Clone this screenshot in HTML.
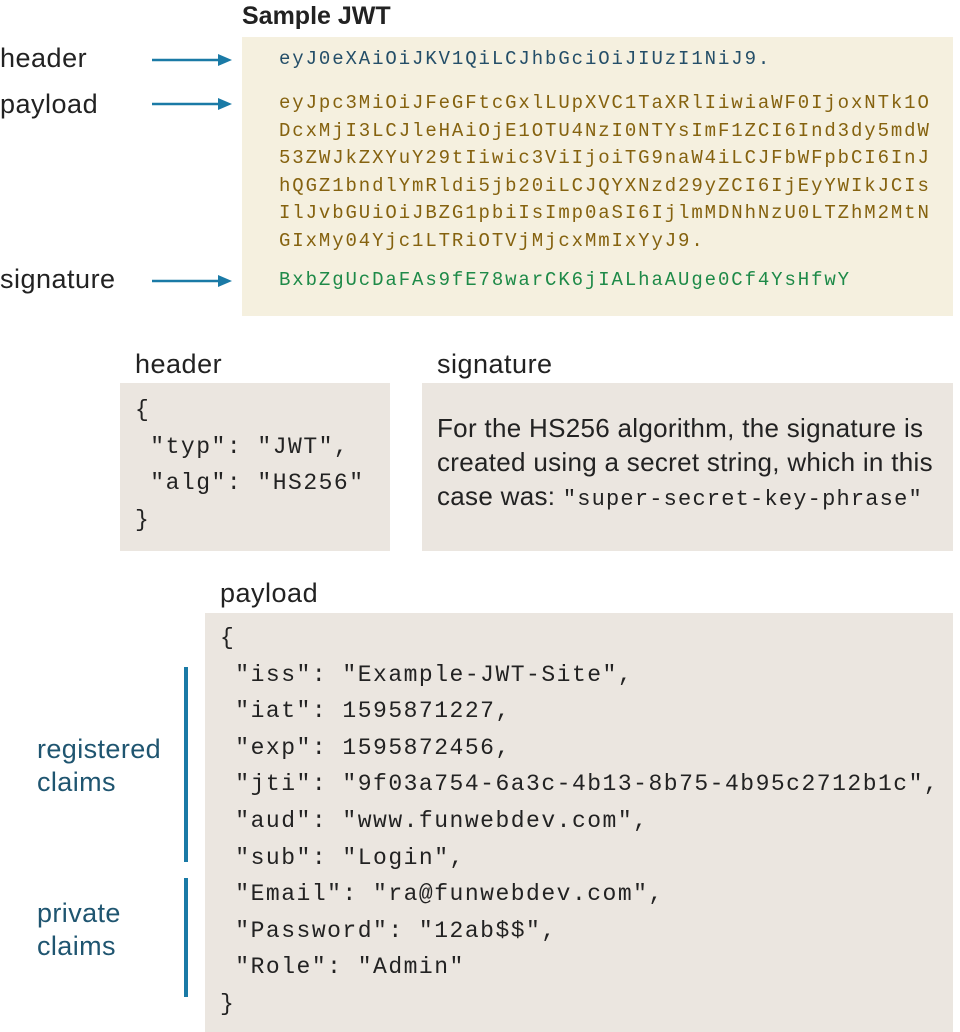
<!DOCTYPE html>
<html><head><meta charset="utf-8"><style>
body{margin:0;width:960px;height:1032px;background:#fff;position:relative;overflow:hidden;font-family:"Liberation Sans",sans-serif}
.a{position:absolute;white-space:pre}
.lab{font-size:27px;letter-spacing:0.5px;color:#222;line-height:30px}
.m{font-family:"Liberation Mono",monospace}
.top{font-size:19px;letter-spacing:1.9px;line-height:27.5px}
.pm{font-size:23px;letter-spacing:1.5px;line-height:36.6px;color:#222}
.box{position:absolute}
.cl{font-size:27px;letter-spacing:0.4px;color:#1f5570;line-height:33px}
</style></head><body>
<div class="a" style="left:242px;top:2px;font-size:25px;font-weight:bold;color:#222">Sample JWT</div>
<div class="box" style="left:242px;top:37px;width:711px;height:279px;background:#f5f0df"></div>
<div class="a lab" style="left:0;top:43px">header</div>
<div class="a lab" style="left:0;top:89px">payload</div>
<div class="a lab" style="left:0;top:264px">signature</div>
<svg class="a" style="left:0;top:0" width="240" height="300">
<g stroke="#1a7aa6" stroke-width="2.5" fill="#1a7aa6">
<line x1="152" y1="60" x2="220" y2="60"/><polygon points="232,60 218,54 218,66" stroke="none"/>
<line x1="152" y1="104" x2="220" y2="104"/><polygon points="232,104 218,98 218,110" stroke="none"/>
<line x1="152" y1="281" x2="220" y2="281"/><polygon points="232,281 218,275 218,287" stroke="none"/>
</g></svg>
<div class="a m top" style="left:279px;top:46px;color:#244e68">eyJ0eXAiOiJKV1QiLCJhbGciOiJIUzI1NiJ9.</div>
<div class="a m top" style="left:279px;top:90px;color:#85620f">eyJpc3MiOiJFeGFtcGxlLUpXVC1TaXRlIiwiaWF0IjoxNTk1O
DcxMjI3LCJleHAiOjE1OTU4NzI0NTYsImF1ZCI6Ind3dy5mdW
53ZWJkZXYuY29tIiwic3ViIjoiTG9naW4iLCJFbWFpbCI6InJ
hQGZ1bndlYmRldi5jb20iLCJQYXNzd29yZCI6IjEyYWIkJCIs
IlJvbGUiOiJBZG1pbiIsImp0aSI6IjlmMDNhNzU0LTZhM2MtN
GIxMy04Yjc1LTRiOTVjMjcxMmIxYyJ9.</div>
<div class="a m top" style="left:279px;top:267px;color:#1e8a48">BxbZgUcDaFAs9fE78warCK6jIALhaAUge0Cf4YsHfwY</div>

<div class="a lab" style="left:135px;top:349px">header</div>
<div class="a lab" style="left:437px;top:349px">signature</div>
<div class="box" style="left:120px;top:383px;width:270px;height:168px;background:#ebe6e0"></div>
<div class="box" style="left:422px;top:383px;width:531px;height:168px;background:#ebe6e0"></div>
<div class="a m pm" style="left:135px;top:392px">{
 "typ": "JWT",
 "alg": "HS256"
}</div>
<div class="a" style="left:437px;top:411px;font-size:26px;letter-spacing:0.3px;line-height:34px;color:#222">For the HS256 algorithm, the signature is
created using a secret string, which in this
case was: <span class="m" style="font-size:22px;letter-spacing:1.2px">"super-secret-key-phrase"</span></div>

<div class="a lab" style="left:220px;top:578px">payload</div>
<div class="box" style="left:205px;top:613px;width:748px;height:419px;background:#ebe6e0"></div>
<div class="a m pm" style="left:220px;top:620px">{
 "iss": "Example-JWT-Site",
 "iat": 1595871227,
 "exp": 1595872456,
 "jti": "9f03a754-6a3c-4b13-8b75-4b95c2712b1c",
 "aud": "www.funwebdev.com",
 "sub": "Login",
 "Email": "ra@funwebdev.com",
 "Password": "12ab$$",
 "Role": "Admin"
}</div>
<div class="box" style="left:184px;top:667px;width:4px;height:195px;background:#1a7aa6"></div>
<div class="box" style="left:184px;top:878px;width:4px;height:119px;background:#1a7aa6"></div>
<div class="a cl" style="left:37px;top:733px">registered
claims</div>
<div class="a cl" style="left:37px;top:897px">private
claims</div>
</body></html>
